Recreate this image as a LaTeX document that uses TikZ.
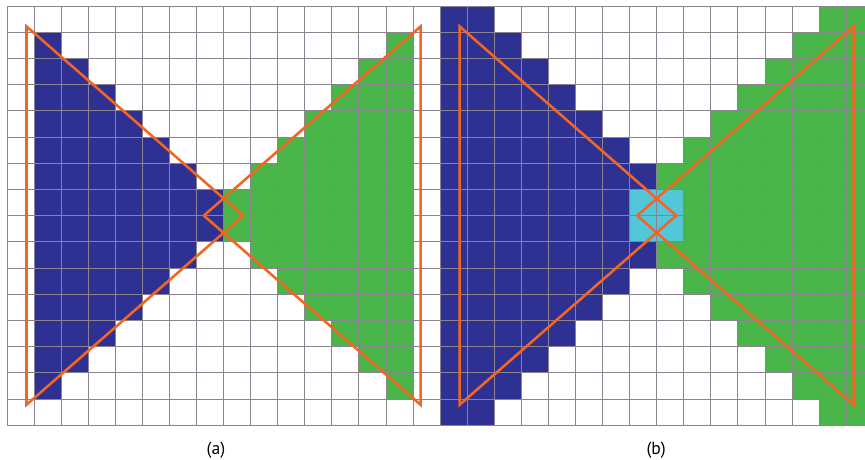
\documentclass[tikz,border=0pt]{standalone}
\usepackage{fontspec}
\setmainfont{PT Sans}
\usetikzlibrary{positioning}
\definecolor{cellblue}{RGB}{46,49,146}
\definecolor{cellgreen}{RGB}{74,181,72}
\definecolor{cellcyan}{RGB}{84,198,217}
\definecolor{triorange}{RGB}{242,101,34}
\definecolor{gridgray}{RGB}{138,130,142}
\tikzset{
  cblue/.style ={fill=cellblue},
  cgreen/.style={fill=cellgreen},
  ccyan/.style ={fill=cellcyan},
  gline/.style ={gridgray, line width=0.8pt},
  tri/.style   ={triorange, line width=2.2pt, line join=miter},
  plabel/.style={font=\fontsize{15}{17}\selectfont, inner sep=0pt},
}
\begin{document}
\begin{tikzpicture}[x=0.8121cm, y=0.786cm]
  \useasboundingbox (-0.2586,-1.298) rectangle (31.695,16.229);
  \clip (-0.2586,-1.298) rectangle (31.695,16.229);
  % panel (a)
  \begin{scope}
    \foreach \i in {1,...,7} {
      \fill[cblue] (\i,\i) rectangle ({\i+1},{16-\i});
    }
    \foreach \i in {8,...,14} {
      \fill[cgreen] (\i,{15-\i}) rectangle ({\i+1},{\i+1});
    }
    \draw[gline, step={(1,1)}] (0,0) grid (16,16);
    \coordinate (aLT) at (0.72,15.22);
    \coordinate (aLB) at (0.72,0.78);
    \coordinate (aLP) at (8.73,8);
    \coordinate (aRT) at (15.28,15.22);
    \coordinate (aRB) at (15.28,0.78);
    \coordinate (aRP) at (7.27,8);
    \draw[tri] (aLT) -- (aLB) -- (aLP) -- cycle;
    \draw[tri] (aRT) -- (aRB) -- (aRP) -- cycle;
    \node[plabel] (capA) at (7.72,-0.95) {(a)};
  \end{scope}
  % panel (b)
  \begin{scope}[shift={(16,0)}]
    \foreach \i in {0,...,7} {
      \fill[cblue] (\i,{max(0,\i-1)}) rectangle ({\i+1},{min(16,17-\i)});
    }
    \foreach \i in {8,...,15} {
      \fill[cgreen] (\i,{max(0,14-\i)}) rectangle ({\i+1},{min(16,\i+2)});
    }
    \fill[ccyan] (7,7) rectangle (9,9);
    \draw[gline, step={(1,1)}] (0,0) grid (16,16);
    \coordinate (bLT) at (0.72,15.22);
    \coordinate (bLB) at (0.72,0.78);
    \coordinate (bLP) at (8.72,8);
    \coordinate (bRT) at (15.28,15.22);
    \coordinate (bRB) at (15.28,0.78);
    \coordinate (bRP) at (7.28,8);
    \draw[tri] (bLT) -- (bLB) -- (bLP) -- cycle;
    \draw[tri] (bRT) -- (bRB) -- (bRP) -- cycle;
    \node[plabel] (capB) at (7.98,-0.95) {(b)};
  \end{scope}
\end{tikzpicture}
\end{document}
